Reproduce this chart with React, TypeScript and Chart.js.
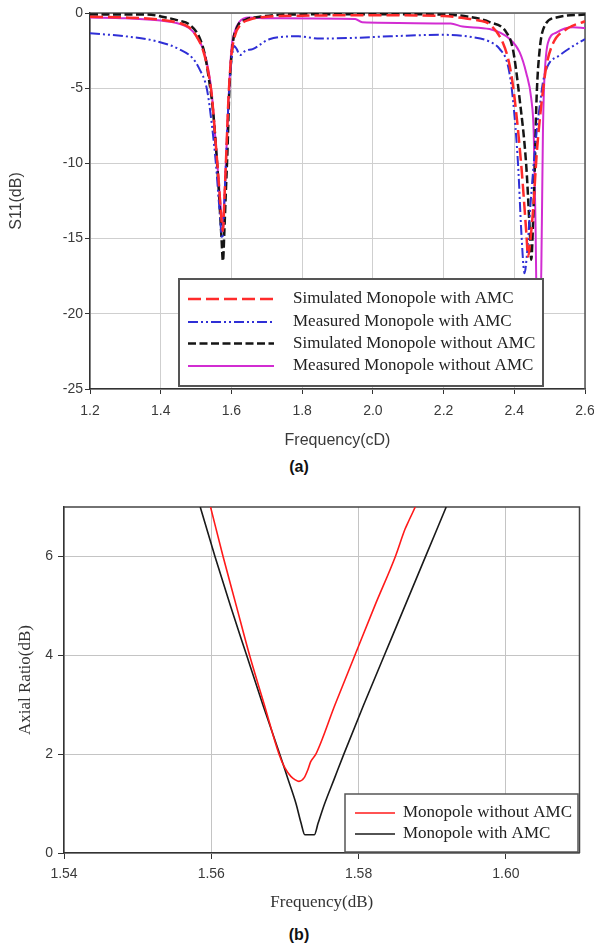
import React, { useEffect, useRef } from "react";
import { Chart, registerables } from "chart.js";

Chart.register(...registerables);

// ---------------- (a) S11 vs frequency ----------------
const freqTicksA = [1.2, 1.4, 1.6, 1.8, 2.0, 2.2, 2.4, 2.6];
const s11TicksA = [0, -5, -10, -15, -20, -25];

const seriesLabelsA = [
  "Simulated Monopole with AMC",
  "Measured Monopole with AMC",
  "Simulated Monopole without AMC",
  "Measured Monopole without AMC",
];

const simWithFreq = [1.2, 1.3, 1.4, 1.45, 1.48, 1.5, 1.52, 1.535, 1.545, 1.555, 1.565, 1.572, 1.576, 1.58, 1.586, 1.592, 1.6, 1.61, 1.625, 1.65, 1.7, 1.8, 2.0, 2.2, 2.26, 2.3, 2.33, 2.368, 2.387, 2.401, 2.42, 2.434, 2.439, 2.446, 2.455, 2.463, 2.477, 2.491, 2.51, 2.548, 2.6];
const simWithS11 = [-0.25, -0.3, -0.45, -0.65, -0.95, -1.5, -2.5, -4.0, -5.6, -8.5, -11.5, -13.8, -14.5, -12.5, -9.0, -5.5, -2.8, -1.5, -0.8, -0.45, -0.25, -0.18, -0.15, -0.2, -0.35, -0.5, -0.75, -2.0, -3.5, -5.7, -10.2, -14.6, -16.2, -15.0, -12.5, -9.5, -6.0, -3.5, -2.0, -1.07, -0.55];

const measWithFreq = [1.2, 1.3, 1.387, 1.452, 1.49, 1.509, 1.531, 1.545, 1.556, 1.566, 1.574, 1.58, 1.586, 1.592, 1.6, 1.608, 1.615, 1.624, 1.64, 1.66, 1.707, 1.79, 1.85, 1.95, 2.05, 2.2, 2.28, 2.33, 2.359, 2.382, 2.396, 2.411, 2.42, 2.429, 2.436, 2.445, 2.455, 2.465, 2.472, 2.481, 2.495, 2.529, 2.566, 2.6];
const measWithS11 = [-1.35, -1.55, -1.87, -2.4, -3.0, -3.7, -5.1, -7.5, -10.0, -13.0, -15.0, -12.5, -9.0, -5.8, -3.2, -2.2, -2.4, -2.8, -2.5, -2.4, -1.75, -1.55, -1.7, -1.65, -1.55, -1.45, -1.6, -1.9, -2.4, -3.5, -5.7, -10.2, -14.6, -17.3, -16.0, -13.0, -10.0, -7.5, -6.2, -4.6, -3.5, -2.8, -2.2, -1.73];

const simWithoutFreq = [1.2, 1.36, 1.415, 1.45, 1.48, 1.509, 1.525, 1.537, 1.548, 1.558, 1.566, 1.572, 1.576, 1.58, 1.584, 1.589, 1.594, 1.603, 1.617, 1.64, 1.68, 1.755, 2.0, 2.2, 2.27, 2.33, 2.378, 2.396, 2.415, 2.434, 2.444, 2.448, 2.453, 2.458, 2.463, 2.472, 2.486, 2.519, 2.6];
const simWithoutS11 = [-0.1, -0.1, -0.3, -0.5, -0.75, -1.6, -2.8, -4.5, -6.5, -9.5, -12.5, -15.0, -16.5, -14.5, -12.0, -9.0, -5.2, -2.2, -0.9, -0.45, -0.25, -0.1, -0.08, -0.1, -0.25, -0.6, -1.3, -2.4, -5.7, -10.2, -14.6, -16.4, -14.0, -10.2, -5.7, -2.4, -0.85, -0.3, -0.1];

const measWithoutFreq = [1.2, 1.3, 1.4, 1.45, 1.48, 1.5, 1.52, 1.535, 1.545, 1.555, 1.565, 1.572, 1.576, 1.58, 1.586, 1.592, 1.6, 1.61, 1.622, 1.65, 1.7, 1.95, 1.97, 2.22, 2.254, 2.33, 2.387, 2.415, 2.434, 2.448, 2.455, 2.46, 2.464, 2.474, 2.478, 2.481, 2.484, 2.488, 2.495, 2.519, 2.566, 2.6];
const measWithoutS11 = [-0.3, -0.35, -0.5, -0.7, -1.0, -1.5, -2.4, -3.8, -5.5, -8.5, -11.5, -13.5, -14.2, -12.5, -9.0, -5.7, -2.4, -1.2, -0.6, -0.3, -0.35, -0.4, -0.62, -0.7, -0.9, -1.07, -1.73, -2.6, -4.0, -5.7, -8.0, -14.0, -20.0, -20.0, -14.0, -8.0, -5.0, -3.3, -2.0, -1.3, -0.95, -1.0];

// ---------------- (b) Axial ratio vs frequency ----------------
const freqTicksB = [1.54, 1.56, 1.58, 1.6];
const arTicksB = [0, 2, 4, 6];
const seriesLabelsB = ["Monopole without AMC", "Monopole with AMC"];

const arWithoutFreq = [1.5599, 1.5616, 1.5634, 1.5652, 1.5672, 1.5692, 1.57, 1.5708, 1.5714, 1.5719, 1.5726, 1.5731, 1.5735, 1.5742, 1.5768, 1.5795, 1.5822, 1.585, 1.5863, 1.5866, 1.5877];
const arWithoutVal = [7.0, 6.0, 5.0, 4.0, 3.0, 2.0, 1.72, 1.55, 1.48, 1.45, 1.52, 1.68, 1.85, 2.0, 3.0, 4.0, 5.0, 6.0, 6.55, 6.65, 7.0];

const arWithFreq = [1.5585, 1.5605, 1.5626, 1.5648, 1.567, 1.5693, 1.5704, 1.5715, 1.5722, 1.5727, 1.574, 1.5745, 1.5754, 1.5767, 1.578, 1.5807, 1.5835, 1.5863, 1.5891, 1.5919];
const arWithVal = [7.0, 6.0, 5.0, 4.0, 3.0, 2.0, 1.5, 1.0, 0.6, 0.37, 0.37, 0.6, 1.0, 1.5, 2.0, 3.0, 4.0, 5.0, 6.0, 7.0];

// ---------------- helpers ----------------
const toPts = (xs: number[], ys: number[]) => xs.map((x, i) => ({ x, y: ys[i] }));

const framePlugin = (color: string, width: number) => ({
  id: "frame",
  beforeDatasetsDraw(chart: any) {
    const { ctx, chartArea: a } = chart;
    ctx.save();
    ctx.strokeStyle = color;
    ctx.lineWidth = width;
    ctx.beginPath();
    ctx.moveTo(a.left, a.top);
    ctx.lineTo(a.right, a.top);
    ctx.lineTo(a.right, a.bottom);
    ctx.stroke();
    ctx.restore();
  },
});

type LegendCfg = {
  x: number; y: number; w: number; h: number;
  border: string; borderWidth: number;
  lineX0: number; lineX1: number; textX: number;
  rows: number[]; font: string;
};

const boxLegendPlugin = (cfg: LegendCfg) => ({
  id: "boxLegend",
  afterDatasetsDraw(chart: any) {
    const ctx = chart.ctx;
    ctx.save();
    ctx.fillStyle = "#ffffff";
    ctx.fillRect(cfg.x, cfg.y, cfg.w, cfg.h);
    ctx.strokeStyle = cfg.border;
    ctx.lineWidth = cfg.borderWidth;
    ctx.strokeRect(cfg.x, cfg.y, cfg.w, cfg.h);
    chart.data.datasets.forEach((ds: any, i: number) => {
      const y = cfg.rows[i];
      ctx.setLineDash(ds.borderDash || []);
      ctx.strokeStyle = ds.borderColor;
      ctx.lineWidth = ds.borderWidth;
      ctx.beginPath();
      ctx.moveTo(cfg.lineX0, y);
      ctx.lineTo(cfg.lineX1, y);
      ctx.stroke();
      ctx.setLineDash([]);
      ctx.fillStyle = "#222";
      ctx.font = cfg.font;
      ctx.textBaseline = "middle";
      ctx.textAlign = "left";
      ctx.fillText(ds.label, cfg.textX, y);
    });
    ctx.restore();
  },
});

const SANS = "'Liberation Sans', Arial, sans-serif";
const SERIF = "'Liberation Serif', 'Times New Roman', serif";

function configA(): any {
  return {
    type: "line",
    data: {
      datasets: [
        { label: seriesLabelsA[0], data: toPts(simWithFreq, simWithS11), borderColor: "#ff2b2b", borderWidth: 2.5, borderDash: [13, 5] },
        { label: seriesLabelsA[1], data: toPts(measWithFreq, measWithS11), borderColor: "#2f2fd6", borderWidth: 2, borderDash: [10, 3, 2, 3, 2, 3] },
        { label: seriesLabelsA[2], data: toPts(simWithoutFreq, simWithoutS11), borderColor: "#151515", borderWidth: 2.5, borderDash: [8, 3.5] },
        { label: seriesLabelsA[3], data: toPts(measWithoutFreq, measWithoutS11), borderColor: "#d22cd2", borderWidth: 2, borderDash: [] },
      ],
    },
    options: {
      responsive: false,
      animation: false,
      elements: { point: { radius: 0 }, line: { cubicInterpolationMode: "monotone", fill: false } },
      layout: { padding: { top: 13, right: 9, left: 0, bottom: 0 } },
      plugins: { legend: { display: false }, tooltip: { enabled: false } },
      scales: {
        x: {
          type: "linear",
          min: 1.2,
          max: 2.6,
          afterBuildTicks: (s: any) => { s.ticks = freqTicksA.map((v) => ({ value: v })); },
          afterFit: (s: any) => { s.height = 63; s.paddingLeft = 0; s.paddingRight = 0; },
          ticks: { callback: (v: any) => Number(v).toFixed(1), font: { family: SANS, size: 14 }, color: "#3a3a3a", padding: 9, maxRotation: 0, autoSkip: false },
          grid: { color: "#cfcfcf", lineWidth: 1, tickColor: "#333", tickLength: 5 },
          border: { color: "#333", width: 1.5 },
          title: { display: true, text: "Frequency(cD)", font: { family: SANS, size: 16, lineHeight: 1.2 }, color: "#3a3a3a", padding: { top: 0, bottom: 1.5 } },
        },
        y: {
          type: "linear",
          min: -25,
          max: 0,
          afterBuildTicks: (s: any) => { s.ticks = s11TicksA.map((v) => ({ value: v })); },
          afterFit: (s: any) => { s.width = 90; s.paddingTop = 0; s.paddingBottom = 0; },
          ticks: { callback: (v: any) => String(v), font: { family: SANS, size: 14 }, color: "#3a3a3a", padding: 2, autoSkip: false },
          grid: { color: "#cfcfcf", lineWidth: 1, tickColor: "#333", tickLength: 5 },
          border: { color: "#333", width: 1.5 },
          title: { display: true, text: "S11(dB)", font: { family: SANS, size: 16, lineHeight: 1.2 }, color: "#3a3a3a", padding: { top: 7, bottom: 0 } },
        },
      },
    },
    plugins: [
      framePlugin("#555", 1.5),
      boxLegendPlugin({ x: 179, y: 279, w: 364, h: 107, border: "#555", borderWidth: 2, lineX0: 188, lineX1: 274, textX: 293, rows: [299, 322, 343.5, 366], font: `17px ${SERIF}` }),
    ],
  };
}

function configB(): any {
  return {
    type: "line",
    data: {
      datasets: [
        { label: seriesLabelsB[0], data: toPts(arWithoutFreq, arWithoutVal), borderColor: "#ff1a1a", borderWidth: 1.6, borderDash: [] },
        { label: seriesLabelsB[1], data: toPts(arWithFreq, arWithVal), borderColor: "#1a1a1a", borderWidth: 1.6, borderDash: [] },
      ],
    },
    options: {
      responsive: false,
      animation: false,
      elements: { point: { radius: 0 }, line: { cubicInterpolationMode: "monotone", fill: false } },
      layout: { padding: { top: 27, right: 14.5, left: 0, bottom: 0 } },
      plugins: { legend: { display: false }, tooltip: { enabled: false } },
      scales: {
        x: {
          type: "linear",
          min: 1.54,
          max: 1.61,
          afterBuildTicks: (s: any) => { s.ticks = freqTicksB.map((v) => ({ value: v })); },
          afterFit: (s: any) => { s.height = 67; s.paddingLeft = 0; s.paddingRight = 0; },
          ticks: { callback: (v: any) => Number(v).toFixed(2), font: { family: SANS, size: 14 }, color: "#3a3a3a", padding: 7, maxRotation: 0, autoSkip: false },
          grid: { color: "#c4c4c4", lineWidth: 1, tickColor: "#333", tickLength: 6 },
          border: { color: "#333", width: 1.5 },
          title: { display: true, text: "Frequency(dB)", font: { family: SERIF, size: 17, lineHeight: 1.2 }, color: "#333", padding: { top: 0, bottom: 7.5 } },
        },
        y: {
          type: "linear",
          min: 0,
          max: 7,
          afterBuildTicks: (s: any) => { s.ticks = arTicksB.map((v) => ({ value: v })); },
          afterFit: (s: any) => { s.width = 64; s.paddingTop = 0; s.paddingBottom = 0; },
          ticks: { callback: (v: any) => String(v), font: { family: SANS, size: 14 }, color: "#3a3a3a", padding: 5, autoSkip: false },
          grid: { color: "#c4c4c4", lineWidth: 1, tickColor: "#333", tickLength: 6 },
          border: { color: "#333", width: 1.5 },
          title: { display: true, text: "Axial Ratio(dB)", font: { family: SERIF, size: 17, lineHeight: 1.2 }, color: "#333", padding: { top: 15, bottom: 0 } },
        },
      },
    },
    plugins: [
      framePlugin("#444", 1.5),
      boxLegendPlugin({ x: 345, y: 314, w: 233, h: 58, border: "#555", borderWidth: 1.5, lineX0: 355, lineX1: 395, textX: 403, rows: [333, 354], font: `17px ${SERIF}` }),
    ],
  };
}

function ChartCanvas({ make, top, height }: { make: () => any; top: number; height: number }) {
  const ref = useRef<HTMLCanvasElement | null>(null);
  useEffect(() => {
    if (!ref.current) return;
    const chart = new Chart(ref.current, make());
    return () => chart.destroy();
  }, [make]);
  return (
    <canvas
      ref={ref}
      width={594}
      height={height}
      style={{ position: "absolute", left: 0, top, width: 594, height }}
    />
  );
}

const captionStyle = (top: number): React.CSSProperties => ({
  position: "absolute",
  left: 0,
  top,
  width: 598,
  textAlign: "center",
  fontFamily: SANS,
  fontWeight: "bold",
  fontSize: 16,
  lineHeight: "20px",
  color: "#111",
});

export default function App() {
  return (
    <div style={{ position: "absolute", left: 0, top: 0, width: 594, height: 948, background: "#fff", overflow: "hidden" }}>
      <ChartCanvas make={configA} top={0} height={452} />
      <div style={captionStyle(457)}>(a)</div>
      <ChartCanvas make={configB} top={480} height={440} />
      <div style={captionStyle(925)}>(b)</div>
    </div>
  );
}
